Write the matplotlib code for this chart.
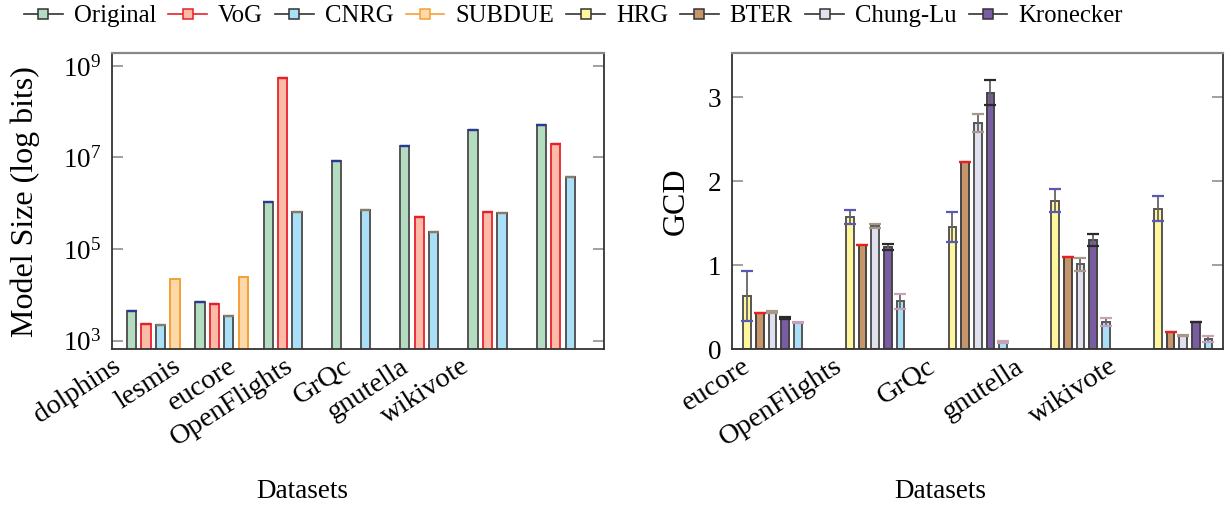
import numpy as np
import matplotlib
matplotlib.use('Agg')
import matplotlib.pyplot as plt
from matplotlib.lines import Line2D
from matplotlib.ticker import NullLocator, FixedLocator

plt.rcParams['font.family'] = ['Liberation Serif', 'DejaVu Serif']
plt.rcParams['mathtext.fontset'] = 'custom'
plt.rcParams['mathtext.rm'] = 'Liberation Serif'
plt.rcParams['mathtext.it'] = 'Liberation Serif:italic'

# ---------------- data ----------------
size_datasets = ['dolphins', 'lesmis', 'eucore', 'OpenFlights', 'GrQc', 'gnutella', 'wikivote']
size_original = [4500, 7100, 1.06e6, 8.5e6, 1.74e7, 3.95e7, 5.0e7]
size_vog = [2350, 6300, 5.47e8, np.nan, 5.07e5, 6.5e5, 1.96e7]
size_cnrg = [2240, 3460, 6.4e5, 7.1e5, 2.34e5, 6.2e5, 3.8e6]
size_subdue = [22500, 24900, np.nan, np.nan, np.nan, np.nan, np.nan]
size_ticks = [1e3, 1e5, 1e7, 1e9]

gcd_datasets = ['eucore', 'OpenFlights', 'GrQc', 'gnutella', 'wikivote']
gcd_hrg = [0.635, 1.575, 1.456, 1.77, 1.675]
gcd_hrg_err = [0.30, 0.08, 0.18, 0.14, 0.145]
gcd_bter = [0.433, 1.238, 2.226, 1.095, 0.206]
gcd_bter_err = [0.0, 0.0, 0.0, 0.0, 0.0]
gcd_chunglu = [0.44, 1.468, 2.698, 1.008, 0.159]
gcd_chunglu_err = [0.01, 0.02, 0.105, 0.083, 0.005]
gcd_kron = [0.373, 1.218, 3.056, 1.302, 0.321]
gcd_kron_err = [0.01, 0.04, 0.15, 0.073, 0.0]
gcd_cnrg = [0.317, 0.567, 0.087, 0.325, 0.115]
gcd_cnrg_err = [0.01, 0.085, 0.01, 0.045, 0.035]
gcd_ticks = [0, 1, 2, 3]

# tick label anchor positions (in group units)
size_label_pos = [-0.458, 0.416, 1.24, 2.07, 2.92, 3.76, 4.64]
gcd_label_pos = [-0.2, 0.69, 1.6, 2.46, 3.37]

# ---------------- styles ----------------
styles = {
    'Original':  dict(fill='#b3dcc0', edge='#555555', line='#333333', cap='#2b3990'),
    'VoG':       dict(fill='#fbbba6', edge='#e8303a', line='#e8202a', cap='#e8202a'),
    'CNRG':      dict(fill='#aadff8', edge='#555555', line='#333333', cap='#8a7a6a'),
    'SUBDUE':    dict(fill='#fdd9aa', edge='#f5a035', line='#f5a035', cap=None),
    'HRG':       dict(fill='#fff59a', edge='#555555', line='#333333', cap='#5858b8'),
    'BTER':      dict(fill='#c6966a', edge='#444444', line='#333333', cap='#e82020'),
    'Chung-Lu':  dict(fill='#e0e0ef', edge='#555555', line='#333333', cap='#a89888'),
    'Kronecker': dict(fill='#7a5ca2', edge='#444444', line='#333333', cap='#2a2a2a'),
}
cnrg_right_cap = '#c8a0b8'

fig = plt.figure(figsize=(12.28, 5.05), dpi=100)
ax1 = fig.add_axes([0.0912, 0.3089, 0.4007, 0.5861])
ax2 = fig.add_axes([0.5958, 0.3089, 0.3998, 0.5861])


def draw_group(ax, series, slot, width, capsize, bottom=0.0):
    k = len(series)
    for i, (name, vals, errs, capcol) in enumerate(series):
        st = styles[name]
        vals = np.asarray(vals, dtype=float)
        x = np.arange(len(vals)) + (i - (k - 1) / 2) * slot
        m = np.isfinite(vals)
        ax.bar(x[m], vals[m] - bottom, width, bottom=bottom, color=st['fill'],
               edgecolor=st['edge'], linewidth=1.4, zorder=2)
        if capcol is not None:
            e = np.zeros(len(vals)) if errs is None else np.asarray(errs, dtype=float)
            eb = ax.errorbar(x[m], vals[m], yerr=e[m], fmt='none', ecolor='#666666',
                             elinewidth=1.3, capsize=capsize, capthick=1.6, zorder=3)
            for cl in eb[1]:
                cl.set_color(capcol)
                cl.set_markeredgecolor(capcol)


# ---------- left: model size ----------
ax1.set_yscale('log')
draw_group(ax1, [
    ('Original', size_original, None, styles['Original']['cap']),
    ('VoG', size_vog, None, styles['VoG']['cap']),
    ('CNRG', size_cnrg, None, styles['CNRG']['cap']),
    ('SUBDUE', size_subdue, None, None),
], slot=0.212, width=0.136, capsize=3.8, bottom=1.0)
ax1.set_xlim(-0.605, 6.6)
ax1.set_ylim(10 ** 2.82, 10 ** 9.28)
ax1.yaxis.set_major_locator(FixedLocator(size_ticks))
ax1.yaxis.set_minor_locator(NullLocator())
ax1.set_ylabel('Model Size (log bits)', fontsize=23)
ax1.yaxis.set_label_coords(-0.177, 0.498)
ax1.set_xlabel('Datasets', fontsize=19.5)
ax1.xaxis.set_label_coords(0.386, -0.48)

# ---------- right: GCD ----------
draw_group(ax2, [
    ('HRG', gcd_hrg, gcd_hrg_err, styles['HRG']['cap']),
    ('BTER', gcd_bter, gcd_bter_err, styles['BTER']['cap']),
    ('Chung-Lu', gcd_chunglu, gcd_chunglu_err, styles['Chung-Lu']['cap']),
    ('Kronecker', gcd_kron, gcd_kron_err, styles['Kronecker']['cap']),
    ('CNRG', gcd_cnrg, gcd_cnrg_err, cnrg_right_cap),
], slot=0.1233, width=0.075, capsize=4.0)
ax2.set_xlim(-0.397, 4.384)
ax2.set_ylim(0, 3.53)
ax2.set_yticks(gcd_ticks)
ax2.set_ylabel('GCD', fontsize=23)
ax2.yaxis.set_label_coords(-0.113, 0.498)
ax2.set_xlabel('Datasets', fontsize=19.5)
ax2.xaxis.set_label_coords(0.424, -0.48)

for ax, labels, pos in [(ax1, size_datasets, size_label_pos), (ax2, gcd_datasets, gcd_label_pos)]:
    ax.set_xticks(pos)
    ax.set_xticklabels(labels, fontsize=20.5, rotation=33, ha='right', va='baseline',
                       rotation_mode='anchor')
    ax.tick_params(axis='x', length=0, pad=15)
    ax.tick_params(axis='y', which='both', direction='in', length=8, width=1.3,
                   color='#999999', left=True, right=True, labelsize=19.5, pad=7.5)
    ax.yaxis.label.set(va='center', ha='center')
    ax.xaxis.label.set(va='center', ha='center')
    for s in ['left', 'right', 'bottom']:
        ax.spines[s].set_color('#333333')
        ax.spines[s].set_linewidth(1.3)
    ax.spines['top'].set_color('#888888')
    ax.spines['top'].set_linewidth(1.6)

# ---------- legend ----------
legend_order = ['Original', 'VoG', 'CNRG', 'SUBDUE', 'HRG', 'BTER', 'Chung-Lu', 'Kronecker']
handles = [Line2D([0], [0], color=styles[n]['line'], lw=1.2, marker='s', markersize=6.5,
                  markerfacecolor=styles[n]['fill'], markeredgecolor=styles[n]['line'],
                  markeredgewidth=1.1) for n in legend_order]
fig.legend(handles, legend_order, loc='center', bbox_to_anchor=(0.467, 0.968), ncol=8,
           frameon=False, fontsize=17.8, handlelength=1.55, handletextpad=0.45,
           columnspacing=0.5, borderaxespad=0)

fig.savefig('out.png', dpi=100)
